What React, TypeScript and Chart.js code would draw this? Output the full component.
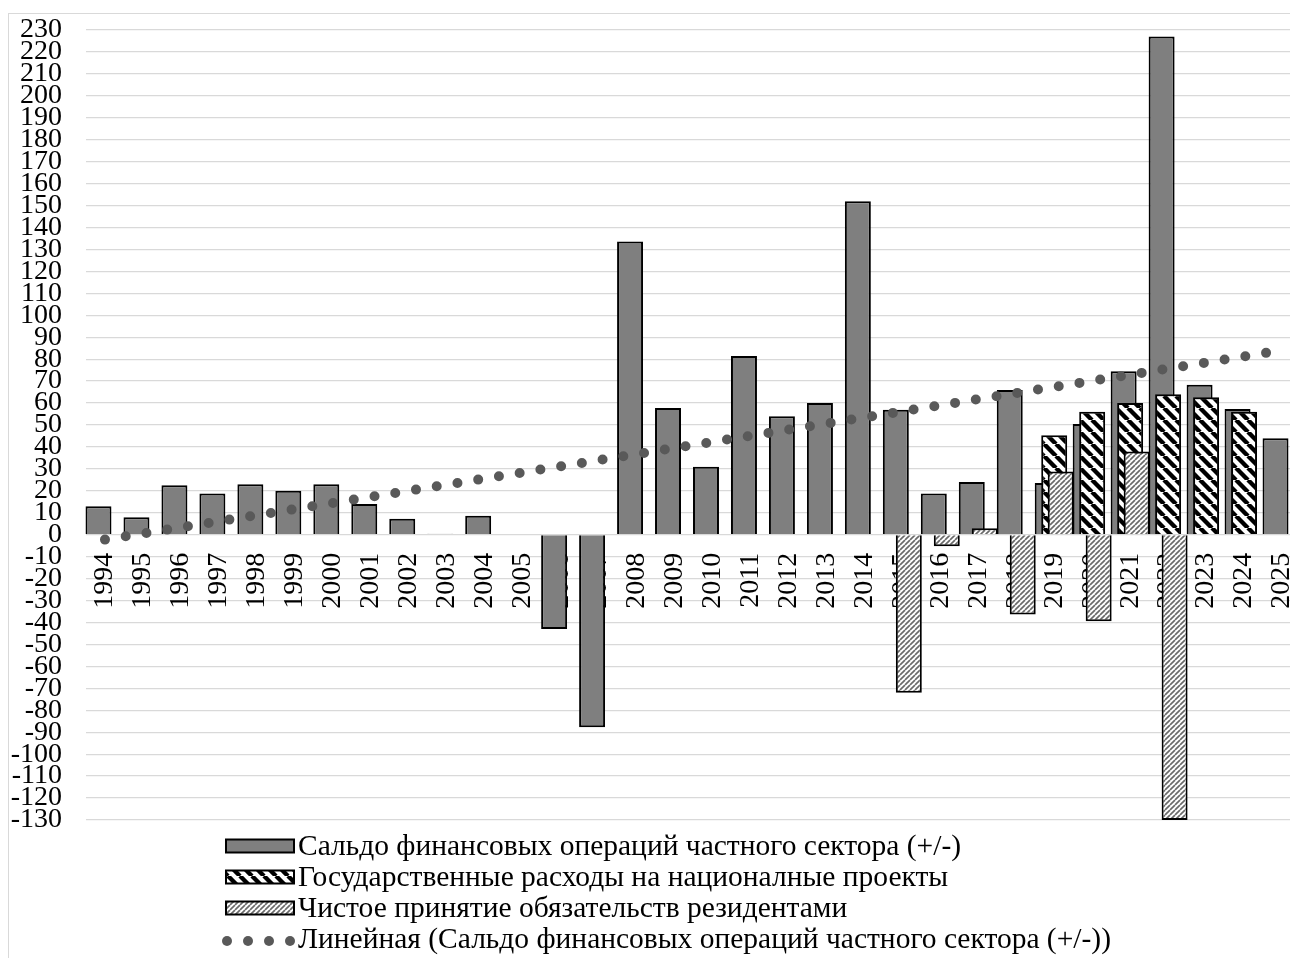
import React, { useEffect, useRef } from "react";
import { Chart, registerables } from "chart.js";

Chart.register(...registerables);

const years = [
  "1994", "1995", "1996", "1997", "1998", "1999", "2000", "2001", "2002", "2003",
  "2004", "2005", "2006", "2007", "2008", "2009", "2010", "2011", "2012", "2013",
  "2014", "2015", "2016", "2017", "2018", "2019", "2020", "2021", "2022", "2023",
  "2024", "2025",
];

const saldo = [
  13, 8, 22.5, 18.8, 23, 20, 23, 14, 7.3, 0.5,
  8.6, 0.3, -43, -87.7, 133.6, 57.7, 31, 81.4, 54, 60,
  152, 57, 18.8, 24, 65.9, 23.6, 50.5, 74.5, 227, 68.3,
  57.3, 44,
];

const nationalProjects = [
  null, null, null, null, null, null, null, null, null, null,
  null, null, null, null, null, null, null, null, null, null,
  null, null, null, null, null, 45.3, 56, 60, 64, 62.6,
  56, null,
];

const residentLiabilities = [
  null, null, null, null, null, null, null, null, null, null,
  null, null, null, null, null, null, null, null, null, null,
  null, -72, -5.3, 3, -36.4, 28.8, -39.4, 37.9, -130, null,
  null, null,
];

const seriesNames = [
  "Сальдо финансовых операций частного сектора (+/-)",
  "Государственные расходы на националные проекты",
  "Чистое принятие обязательств резидентами",
  "Линейная (Сальдо финансовых операций частного сектора (+/-))",
];

const Y_MIN = -130;
const Y_MAX = 230;
const Y_STEP = 10;

// Linear (least squares) trend of the first series, as the spreadsheet trendline does
function linearTrend(values: number[]): number[] {
  const n = values.length;
  const mx = (n - 1) / 2;
  const my = values.reduce((a, b) => a + b, 0) / n;
  let sxy = 0;
  let sxx = 0;
  values.forEach((v, i) => {
    sxy += (i - mx) * (v - my);
    sxx += (i - mx) * (i - mx);
  });
  const slope = sxy / sxx;
  return values.map((_, i) => my + slope * (i - mx));
}

const FONT = '"Liberation Serif", "Times New Roman", serif';
const TICK_SIZE = 28;
const LEGEND_SIZE = 29.5;
const GREY = "#7f7f7f";
const TREND = "#595959";

function makeBlackHatch(): CanvasPattern | string {
  const s = 12;
  const c = document.createElement("canvas");
  c.width = s;
  c.height = s;
  const g = c.getContext("2d");
  if (!g) return "#fff";
  g.fillStyle = "#fff";
  g.fillRect(0, 0, s, s);
  g.strokeStyle = "#000";
  g.lineWidth = 4.4;
  for (const k of [-s, 0, s]) {
    g.beginPath();
    g.moveTo(k, 0);
    g.lineTo(k + s, s);
    g.stroke();
  }
  return g.createPattern(c, "repeat") || "#fff";
}

function makeGreyHatch(): CanvasPattern | string {
  const s = 5;
  const c = document.createElement("canvas");
  c.width = s;
  c.height = s;
  const g = c.getContext("2d");
  if (!g) return "#ccc";
  g.fillStyle = "#fff";
  g.fillRect(0, 0, s, s);
  g.strokeStyle = "#6a6a6a";
  g.lineWidth = 1.7;
  for (const k of [-s, 0, s]) {
    g.beginPath();
    g.moveTo(k, s);
    g.lineTo(k + s, 0);
    g.stroke();
  }
  return g.createPattern(c, "repeat") || "#ccc";
}

export default function App() {
  const ref = useRef<HTMLCanvasElement | null>(null);

  useEffect(() => {
    const canvas = ref.current;
    if (!canvas) return;
    const blackHatch = makeBlackHatch();
    const greyHatch = makeGreyHatch();
    const trend = linearTrend(saldo);

    // draw datasets first-to-last so later series overlap earlier ones
    const orderPlugin = {
      id: "forwardOrder",
      beforeDatasetsDraw(chart: any) {
        const ctx = chart.ctx;
        ctx.save();
        const n = chart.data.datasets.length;
        for (let i = 0; i < n; i++) {
          const meta = chart.getDatasetMeta(i);
          if (meta && meta.visible !== false && meta.controller) meta.controller.draw();
        }
        ctx.restore();
        return false;
      },
    };

    const legendPlugin = {
      id: "customLegend",
      afterDraw(chart: any) {
        const ctx = chart.ctx;
        const area = chart.chartArea;
        const boxLeft = 226;
        const boxW = 68;
        const boxH = 13;
        const rowH = 31;
        const firstRow = area.bottom + 26;
        const fills = [GREY, blackHatch, greyHatch];
        ctx.save();
        ctx.font = `${LEGEND_SIZE}px ${FONT}`;
        ctx.textBaseline = "middle";
        ctx.textAlign = "left";
        for (let r = 0; r < 4; r++) {
          const cy = firstRow + r * rowH;
          if (r < 3) {
            ctx.fillStyle = fills[r] as any;
            ctx.fillRect(boxLeft, cy - boxH / 2, boxW, boxH);
            ctx.strokeStyle = "#000";
            ctx.lineWidth = 2;
            ctx.strokeRect(boxLeft, cy - boxH / 2, boxW, boxH);
          } else {
            ctx.fillStyle = TREND;
            for (let d = 0; d < 4; d++) {
              ctx.beginPath();
              ctx.arc(boxLeft + 1 + d * 21, cy + 2, 5, 0, Math.PI * 2);
              ctx.fill();
            }
          }
          ctx.fillStyle = "#000";
          ctx.fillText(seriesNames[r], boxLeft + boxW + 4, cy + 1);
        }
        ctx.restore();
      },
    };

    const chart = new Chart(canvas, {
      type: "bar",
      data: {
        labels: years,
        datasets: [
          {
            type: "bar",
            label: seriesNames[0],
            data: saldo,
            backgroundColor: GREY,
            borderColor: "#000",
            borderWidth: 2,
            categoryPercentage: 0.513,
            barPercentage: 4,
          },
          {
            type: "bar",
            label: seriesNames[1],
            data: nationalProjects as any,
            backgroundColor: blackHatch as any,
            borderColor: "#000",
            borderWidth: 2,
            categoryPercentage: 0.513,
            barPercentage: 4,
          },
          {
            type: "bar",
            label: seriesNames[2],
            data: residentLiabilities as any,
            backgroundColor: greyHatch as any,
            borderColor: "#000",
            borderWidth: 2,
            categoryPercentage: 0.513,
            barPercentage: 4,
          },
          {
            type: "line",
            label: seriesNames[3],
            data: trend,
            borderColor: TREND,
            borderWidth: 10,
            borderDash: [0, 21],
            borderCapStyle: "round",
            pointRadius: 0,
            tension: 0,
            fill: false,
          } as any,
        ],
      },
      options: {
        responsive: false,
        animation: false,
        events: [],
        layout: { padding: { left: 0, top: 30, right: 9, bottom: 138 } },
        plugins: {
          legend: { display: false },
          tooltip: { enabled: false },
        },
        scales: {
          x: {
            type: "category",
            position: { y: 0 } as any,
            z: 1,
            offset: true,
            grid: { display: false, drawTicks: false },
            border: { display: false },
            ticks: {
              autoSkip: false,
              minRotation: 90,
              maxRotation: 90,
              padding: 18,
              color: "#000",
              font: { family: FONT, size: TICK_SIZE },
            },
            afterFit(scale: any) {
              scale.paddingLeft = 0;
              scale.paddingRight = 0;
              scale.paddingTop = 0;
              scale.paddingBottom = 0;
            },
          },
          y: {
            min: Y_MIN,
            max: Y_MAX,
            grid: { color: "#d9d9d9", lineWidth: 1.3, drawTicks: false },
            border: { display: false },
            ticks: {
              stepSize: Y_STEP,
              padding: 24,
              color: "#000",
              autoSkip: false,
              font: { family: FONT, size: TICK_SIZE, lineHeight: 0.8 },
              callback: (v: any) => String(v),
            },
            afterFit(scale: any) {
              scale.width = 86;
              scale.paddingTop = 0;
              scale.paddingBottom = 0;
            },
          },
        },
      },
      plugins: [orderPlugin, legendPlugin],
    });

    return () => chart.destroy();
  }, []);

  return (
    <div
      style={{
        position: "fixed",
        left: 0,
        top: 0,
        width: 1290,
        height: 958,
        overflow: "hidden",
        background: "#fff",
      }}
    >
      <div
        style={{
          position: "absolute",
          left: 8,
          top: 13,
          width: 1400,
          height: 1100,
          border: "1px solid #d9d9d9",
        }}
      />
      <canvas
        ref={ref}
        width={1310}
        height={958}
        style={{ position: "absolute", left: 0, top: 0, width: 1310, height: 958 }}
      />
    </div>
  );
}
